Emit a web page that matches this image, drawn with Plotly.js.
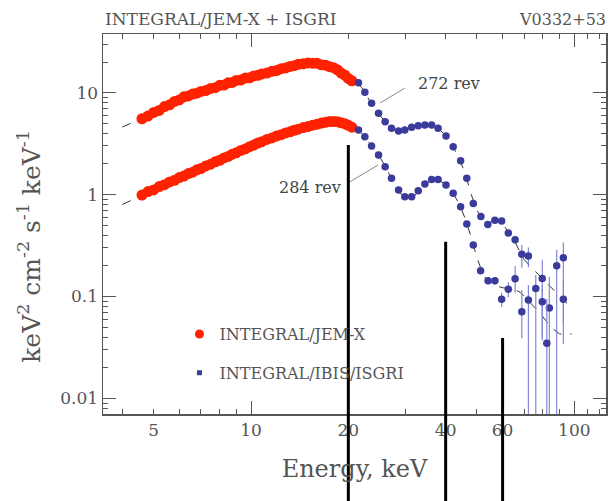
<!DOCTYPE html>
<html>
<head>
<meta charset="utf-8">
<script src="https://cdn.plot.ly/plotly-3.0.1.min.js"></script>
<style>html,body{margin:0;padding:0;background:#fff;}#chart{width:608px;height:501px;}</style>
</head>
<body>
<div id="chart"></div>
<script>
// ---- JEM-X (red) spectra, keV^2 cm^-2 s^-1 keV^-1 ----
var jemxEnergy = [4.6,4.8,5.0,5.2,5.4,5.6,5.8,6.0,6.2,6.4,6.6,6.8,7.0,7.25,7.5,7.75,8.0,8.25,8.5,8.75,9.0,9.3,9.6,9.9,10.2,10.5,10.8,11.2,11.6,12.0,12.4,12.8,13.2,13.6,14.0,14.5,15.0,15.5,16.0,16.5,17.0,17.5,18.0,18.5,19.0,19.5,20.0,20.5];
var jemx272 = [5.55,5.9,6.4,6.7,7.3,7.6,8.2,8.5,9.1,9.3,9.7,9.9,10.3,10.5,11.0,11.2,11.8,11.9,12.5,12.6,13.2,13.3,13.9,14.0,14.6,14.8,15.3,15.6,16.2,16.5,17.2,17.5,18.1,18.4,19.0,19.2,19.6,19.5,19.4,18.8,18.6,18.0,17.6,16.8,15.6,14.9,13.8,13.1];
var jemx284 = [0.99,1.07,1.11,1.2,1.25,1.33,1.38,1.47,1.52,1.61,1.66,1.75,1.80,1.91,1.99,2.10,2.17,2.29,2.37,2.49,2.57,2.71,2.81,2.95,3.06,3.20,3.31,3.48,3.60,3.76,3.87,4.03,4.13,4.28,4.38,4.55,4.65,4.80,4.90,5.03,5.12,5.21,5.21,5.19,5.07,4.96,4.78,4.59];

// ---- IBIS/ISGRI (blue) spectra ----
var isgriEnergy272 = [21.5,22.5,23.6,24.8,26.0,27.2,28.6,29.9,31.4,32.9,34.5,36.2,37.9,40.1,42.2,44.5,46.5,48.7,51.4,54.0,56.8,59.6,62.5,65.6,68.8,72.1,76.0,79.6,83.7,88.2,92.5];
var isgri272 = [12.5,10.1,7.87,6.28,5.19,4.47,4.21,4.31,4.58,4.75,4.82,4.82,4.47,3.76,2.95,2.15,1.45,0.82,0.61,0.51,0.56,0.55,0.42,0.36,0.26,0.25,0.12,0.15,0.077,0.20,0.24];
var isgri272ErrPlus  = [0,0,0,0,0,0,0,0,0,0,0,0,0,0,0,0,0,0,0,0.02,0.025,0.025,0.03,0.035,0.061,0.053,0.043,0.08,0.079,0.087,0.098];
var isgri272ErrMinus = [0,0,0,0,0,0,0,0,0,0,0,0,0,0,0,0,0,0,0,0.02,0.025,0.025,0.03,0.035,0.068,0.056,0.1195,0.113,0.0765,0.196,0.187];

var isgriEnergy284 = [21.5,22.5,23.6,24.8,26.0,27.2,28.6,29.9,31.4,32.9,34.5,36.2,37.9,40.1,42.2,44.5,46.5,48.7,51.3,54.1,56.8,59.6,62.5,65.6,68.8,72.1,79.6,82.2,92.5];
var isgri284 = [4.31,3.70,3.0,2.45,1.88,1.45,1.11,0.95,0.95,1.09,1.27,1.41,1.41,1.24,1.03,0.76,0.515,0.32,0.179,0.143,0.143,0.094,0.118,0.149,0.071,0.0925,0.089,0.0348,0.094];
var isgri284ErrPlus  = [0,0,0,0,0,0,0,0,0,0,0,0,0,0,0,0,0,0,0.01,0.012,0.012,0.015,0.02,0.05,0.045,0.037,0.04,0.06,0.05];
var isgri284ErrMinus = [0,0,0,0,0,0,0,0,0,0,0,0,0,0,0,0,0,0,0.01,0.012,0.012,0.015,0.02,0.04,0.032,0.092,0.05,0.0345,0.06];

// ---- model curves (dashed) ----
var modelEnergy = [4.0,4.6,5.0,5.5,6.0,6.5,7.0,8.0,9.0,10,11,12,13,14,15,16,17,18,19,20,21,22,23,24,25,26,27,28,29,30,32,34,36,38,40,42,44,46,48,50,52,54,56,58,60,62,64,66,68,70,74,78,82,86,90,94,98];
var model272 = [4.6,5.55,6.3,7.4,8.5,9.4,10.2,11.7,13.0,14.2,15.4,16.6,17.8,18.9,19.5,19.4,18.6,17.5,15.8,14.0,13.0,11.2,8.9,7.0,6.0,5.2,4.55,4.25,4.2,4.3,4.65,4.8,4.8,4.45,3.8,3.0,2.3,1.6,1.0,0.7,0.58,0.53,0.54,0.55,0.52,0.44,0.38,0.33,0.27,0.23,0.19,0.16,0.135,0.115,0.1,0.088,0.078];
var model284 = [0.80,0.99,1.12,1.29,1.46,1.63,1.81,2.18,2.58,2.98,3.4,3.75,4.08,4.39,4.66,4.9,5.1,5.2,5.08,4.8,4.45,4.0,3.3,2.8,2.35,1.9,1.5,1.2,1.02,0.95,0.97,1.2,1.38,1.4,1.25,1.05,0.82,0.58,0.38,0.24,0.17,0.14,0.13,0.125,0.122,0.12,0.118,0.115,0.11,0.1,0.085,0.07,0.057,0.048,0.043,0.042,0.043];

// ---- label leader lines ----
var leader272E = [25.1, 29.9], leader272F = [7.93, 11.1];
var leader284E = [20.2, 24.7], leader284F = [1.33, 1.95];

// ---- axis ticks ----
var xLabelVals = [5,10,20,40,60,100];
var xLabelText = ['5','10','20','40','60','100'];
var xMinorVals = [4,6,7,8,9,30,50,70,80,90,110,120];
var xLongVals = [10,100];
var yLabelVals = [0.01,0.1,1,10];
var yLabelText = ['0.01','0.1','1','10'];
var markLines = [20,40,60];

var yMinorVals = [];
[0.001,0.01,0.1,1,10].forEach(function(d){for(var m=2;m<=9;m++){yMinorVals.push(d*m);}});

var RED = '#ff2200', BLUE = '#3b3b9c', SERIF = 'DejaVu Serif, serif', TXT = '#555';

var traces = [
  {x: modelEnergy, y: model272, mode:'lines', line:{color:'#333', width:1, dash:'dash'}, showlegend:false, hoverinfo:'skip'},
  {x: modelEnergy, y: model284, mode:'lines', line:{color:'#333', width:1, dash:'dash'}, showlegend:false, hoverinfo:'skip'},
  {x: jemxEnergy, y: jemx272, mode:'markers', marker:{color:RED, size:11}, showlegend:false},
  {x: jemxEnergy, y: jemx284, mode:'markers', marker:{color:RED, size:11}, showlegend:false},
  {x: isgriEnergy272, y: isgri272, mode:'markers', marker:{color:BLUE, size:7.5},
   error_y:{type:'data', symmetric:false, array:isgri272ErrPlus, arrayminus:isgri272ErrMinus, color:'#8585d6', thickness:1.2, width:0}, showlegend:false},
  {x: isgriEnergy284, y: isgri284, mode:'markers', marker:{color:BLUE, size:7.5},
   error_y:{type:'data', symmetric:false, array:isgri284ErrPlus, arrayminus:isgri284ErrMinus, color:'#8585d6', thickness:1.2, width:0}, showlegend:false},
  {x: leader272E, y: leader272F, xaxis:'x2', yaxis:'y2', mode:'lines', line:{color:'#888', width:1}, showlegend:false},
  {x: leader284E, y: leader284F, xaxis:'x2', yaxis:'y2', mode:'lines', line:{color:'#888', width:1}, showlegend:false},
  {x:[null], y:[null], mode:'markers', marker:{color:RED, size:9}, name:'INTEGRAL/JEM-X', legendgroup:'a'},
  {x:[null], y:[null], mode:'markers', marker:{color:BLUE, size:5, symbol:'square'}, name:'INTEGRAL/IBIS/ISGRI', legendgroup:'b'}
];

var xr = [0.5422, 2.098], yr = [-2.153, 1.576];
var axCommon = {type:'log', showgrid:false, zeroline:false, ticks:'inside', tickcolor:'#555', tickwidth:1, mirror:'allticks'};

var layout = {
  width:608, height:501,
  margin:{l:103, r:2, t:34, b:87},
  paper_bgcolor:'#fff', plot_bgcolor:'#fff',
  font:{family:SERIF, color:TXT},
  showlegend:true,
  legend:{x:0.152, y:0.255, xanchor:'left', yanchor:'top', bgcolor:'rgba(0,0,0,0)', traceorder:'grouped', tracegroupgap:15, font:{family:SERIF, size:16, color:TXT}},
  xaxis: Object.assign({}, axCommon, {range:xr, tickmode:'array', tickvals:xLabelVals, ticktext:xLabelText, ticklen:5,
          minor:{tickmode:'array', tickvals:xMinorVals, ticks:'inside', ticklen:5, tickcolor:'#555', tickwidth:1, showgrid:false},
          showline:true, linecolor:'#555', linewidth:1.5, tickfont:{family:SERIF, size:17, color:TXT},
          title:{text:'Energy, keV', font:{family:SERIF, size:24, color:TXT}, standoff:21}}),
  yaxis: Object.assign({}, axCommon, {range:yr, tickmode:'array', tickvals:yLabelVals, ticktext:yLabelText, ticklen:13,
          minor:{tickmode:'array', tickvals:yMinorVals, ticks:'inside', ticklen:5, tickcolor:'#555', tickwidth:1, showgrid:false},
          showline:true, linecolor:'#555', linewidth:1.5, tickfont:{family:SERIF, size:17, color:TXT}}),
  xaxis2: Object.assign({}, axCommon, {overlaying:'x', anchor:'y2', range:xr, tickmode:'array', tickvals:xLongVals, ticklen:13, showticklabels:false, showline:false}),
  yaxis2: Object.assign({}, axCommon, {overlaying:'y', anchor:'x2', range:yr, showticklabels:false, ticks:'', showline:false}),
  annotations:[
    {text:'INTEGRAL/JEM-X + ISGRI', xref:'paper', yref:'paper', x:0, y:1, xanchor:'left', yanchor:'bottom', yshift:3, showarrow:false, font:{family:SERIF, size:17, color:TXT}},
    {text:'V0332+53', xref:'paper', yref:'paper', x:0.823, y:1, xanchor:'left', yanchor:'bottom', yshift:3, showarrow:false, font:{family:SERIF, size:16, color:TXT}},
    {text:'keV<sup>2</sup> cm<sup>-2</sup> s<sup>-1</sup> keV<sup>-1</sup>', xref:'paper', yref:'paper', x:0, y:0.44, xshift:-73, xanchor:'center', yanchor:'middle', textangle:-90, showarrow:false, font:{family:SERIF, size:25, color:TXT}},
    {text:'272 rev', xref:'x', yref:'y', x:Math.log10(32.4), y:1.0854, xanchor:'left', yanchor:'middle', showarrow:false, font:{family:SERIF, size:16, color:'#444'}},
    {text:'284 rev', xref:'x', yref:'y', x:Math.log10(12.03), y:0.0746, xanchor:'left', yanchor:'middle', showarrow:false, font:{family:SERIF, size:16, color:'#444'}}
  ],
  shapes: markLines.map(function(v,i){
    var tops = [0.708, 0.453, 0.2];
    return {type:'line', xref:'x', yref:'paper', x0:v, x1:v, y0:-0.25, y1:tops[i], line:{color:'#000', width:3}, layer:'above'};
  })
};

Plotly.newPlot('chart', traces, layout, {staticPlot:true, displayModeBar:false});
</script>
</body>
</html>
